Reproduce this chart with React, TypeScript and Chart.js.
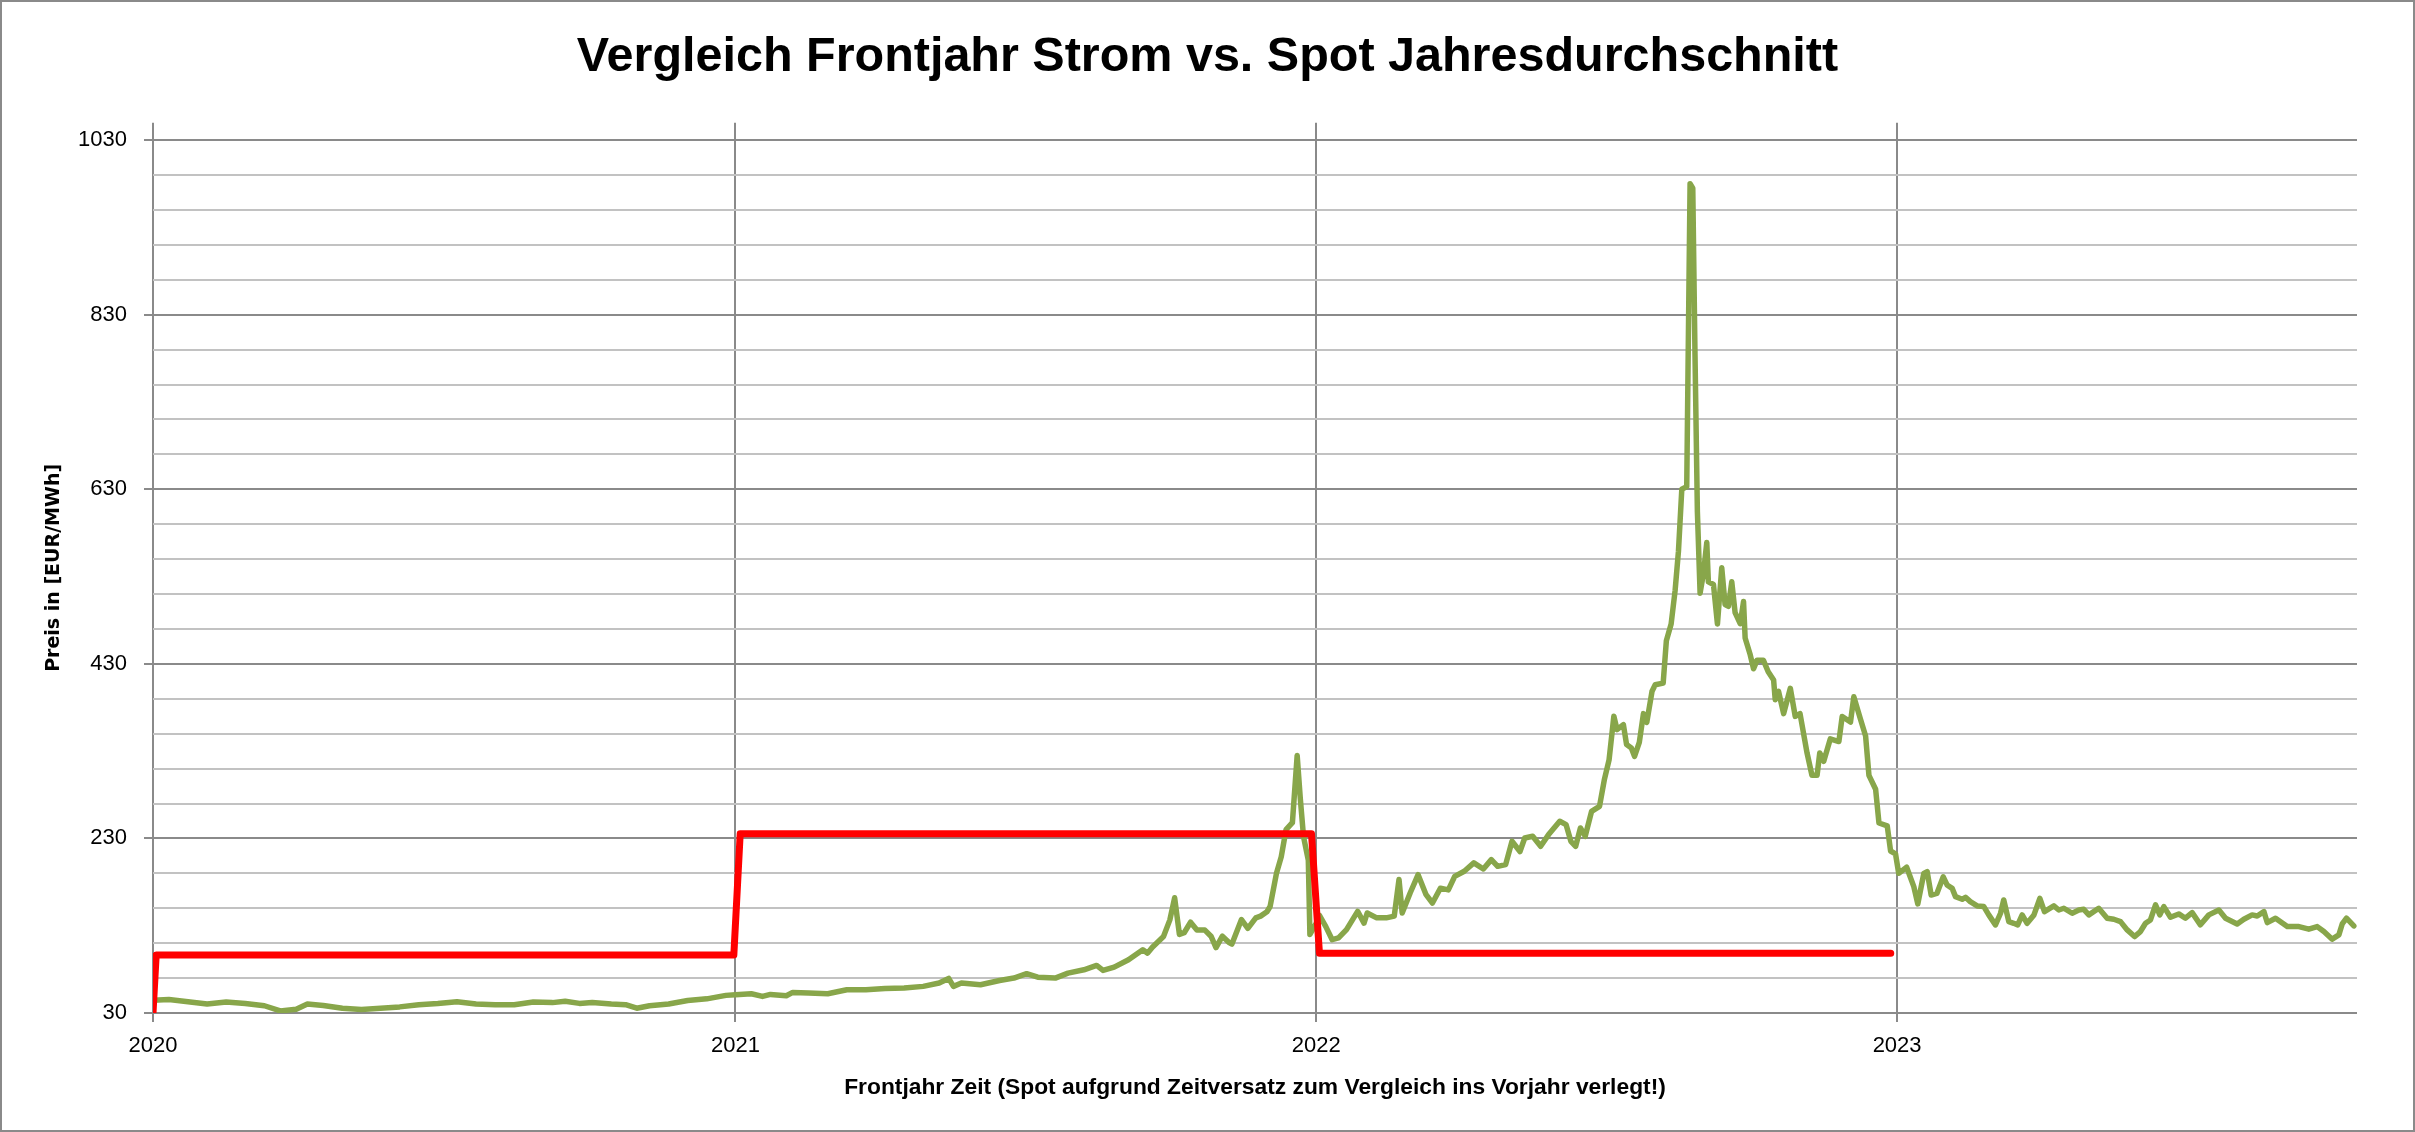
import { useEffect, useRef } from 'react';
import { Chart, registerables } from 'chart.js';

Chart.register(...registerables);

const chartTitle = 'Vergleich Frontjahr Strom vs. Spot Jahresdurchschnitt';
const xAxisTitle = 'Frontjahr Zeit (Spot aufgrund Zeitversatz zum Vergleich ins Vorjahr verlegt!)';
const yAxisTitle = 'Preis in [EUR/MWh]';

// x axis: days since 2020-01-01
const yearLabels = ['2020', '2021', '2022', '2023'];
const yearStartDays = [0, 366, 731, 1096];
const lastDay = 1385;

// y axis
const yMin = 30;
const yMax = 1050;
const yLabelValues = [30, 230, 430, 630, 830, 1030];
const yGridValues = [30, 70, 110, 150, 190, 230, 270, 310, 350, 390, 430, 470, 510, 550, 590, 630, 670, 710, 750, 790, 830, 870, 910, 950, 990, 1030];

// Frontjahr (red step line)
const frontDays = [0, 2, 365, 369, 728, 733, 1092];
const frontPrices = [30, 96.5, 96.5, 235.5, 235.5, 98.5, 98.5];

// Spot (green line)
const spotDays = [
  0, 10, 22, 34, 46, 58, 70, 80, 90, 97, 107, 119, 131, 143, 155, 167, 179, 191, 203, 215,
  227, 239, 251, 259, 268, 276, 288, 297, 304, 312, 324, 336, 348, 360, 366,
  376, 383, 388, 398, 402, 412, 424, 436, 448, 460, 472, 484, 494, 500, 503, 508, 520, 532, 541,
  549, 556, 567, 575, 585, 593, 597, 604, 613, 622, 625, 628, 635, 639, 642, 645, 648, 652, 656,
  661, 665, 668, 672, 676, 678, 684, 688, 693, 696, 700, 702, 706, 709, 712, 716, 719, 721, 723,
  726, 727, 731, 733, 737, 741, 745, 750, 757, 761, 763, 769, 775, 780, 783, 785, 790, 795, 800,
  804, 809, 814, 818, 824, 830, 836, 841, 845, 850, 854, 859, 862, 867, 872, 877, 884, 888, 891,
  894, 897, 900, 904, 909, 912, 915, 918, 920, 924, 926, 929, 931, 934, 936.6, 938.7, 942, 944,
  949, 951, 954, 956.5, 958.6, 960.7, 963.8, 965.9, 967.6, 969, 970.5, 972.2, 974.3, 976.4, 977.4,
  980.6, 983.1, 985.8, 987.9, 990, 992.1, 994.2, 997.4, 999.5, 1000.5, 1003.7, 1005.8, 1007.9,
  1012, 1015, 1018.4, 1019.4, 1021.5, 1024.7, 1028.9, 1032, 1035, 1039.4, 1042.5, 1045.7, 1047.4,
  1049.9, 1054, 1059.4, 1061.5, 1066.7, 1068.8, 1073, 1076.2, 1078.3, 1082.5, 1084.6, 1089.8,
  1091.9, 1095, 1097, 1102, 1106.5, 1109, 1112.8, 1114.9, 1117.4, 1121, 1125, 1127.4, 1130.6,
  1132.7, 1136.9, 1139, 1142, 1146.3, 1150.5, 1153.6, 1157.8, 1161, 1163, 1166.2, 1169.3, 1171.8,
  1174.6, 1177.7, 1182, 1185.7, 1188.6, 1194.5, 1197.6, 1200.8, 1206, 1210.2, 1213.3, 1216.5,
  1222.7, 1228, 1232.2, 1236.4, 1240.6, 1245.2, 1248.9, 1252.1, 1255.2, 1258.4, 1261.1, 1263.6,
  1267.8, 1273, 1277.2, 1281.4, 1286.6, 1291.9, 1298.2, 1302.4, 1309.7, 1313.9, 1319.1, 1322.3,
  1326.5, 1328.6, 1333.8, 1341.2, 1348.5, 1354.7, 1360, 1364.2, 1369.4, 1373.6, 1375.7, 1378.4, 1383,
];
const spotPrices = [
  44.6, 45.4, 43, 40.3, 42.7, 41, 38.3, 32.4, 34.4, 40.3, 38.7, 35.5, 34, 35.5, 37, 39.5, 41, 43, 40.3, 39.5,
  39.5, 42.7, 41.9, 43.5, 41, 42, 40.3, 39.5, 35.5, 38.3, 40.3, 44.3, 46.2, 50.2, 51,
  52, 49, 51.3, 49.8, 53.6, 52.9, 52, 56.7, 56.7, 58.2, 58.6, 60.5, 64.3, 69.6, 60.5, 64.3, 62.4, 67.3, 70,
  75, 71, 70, 75.7, 79.5, 84.5, 78.8, 82.6, 91, 102.4, 98.6, 105.4, 117.6, 136.7, 162, 120, 122, 134, 125,
  125, 117.6, 105, 118, 111, 109, 137, 127, 139, 141, 146, 152, 190, 209, 240, 248, 325, 275, 232,
  205, 120, 133, 142, 129, 114, 116, 125.5, 146.5, 133, 144.6, 139, 139, 141, 183, 144.6, 167.5, 188.5, 165.6,
  156, 173, 171, 186.6, 192.4, 202, 195, 205.7, 198, 200, 226.7, 215, 230.5, 232.5, 221, 234.4, 249.7, 245.8, 226.7,
  221, 242, 232.5, 261, 266.8, 297, 320, 370, 354.7, 360.4, 337.5, 333.7, 324, 340, 373, 363, 398.6, 406,
  408, 456.5, 475.7, 514, 559, 630, 633, 980, 975, 784, 604, 511, 533.5, 569, 524,
  521, 475.7, 540, 498, 496, 524, 488.6, 476, 501.4, 459.7, 440.4, 424.4, 434,
  434, 421, 411.5, 389, 398.6, 373, 402, 369.8, 373, 328, 302.3, 302.3, 328,
  318.4, 344, 341, 369.8, 363.3, 392.3, 366.6, 347.3, 302.3, 286.3, 247.7, 244.5,
  215.6, 212.4, 190, 197, 174.8, 155, 190, 192, 165.2, 167, 186, 176.7, 172.8,
  163.3, 160.3, 162.6, 157.6, 152.7, 151.9, 142.4, 131, 144.3, 159.5, 134.7, 132.8, 131,
  142.4, 132.8, 142.4, 161.4, 146.2, 152.7, 148, 150, 144.3, 148, 148.8, 142.4,
  150, 138.6, 137.4, 134.7, 125.2, 117.6, 123.3, 132.8, 136.6, 153.8, 142.4, 151.9,
  139.7, 143.5, 138.6, 145, 131, 142.4, 148, 138.6, 132, 137.4, 142.4, 141.2,
  146.2, 133.6, 138.6, 129, 129, 126, 129, 123.3, 114.6, 119.5, 132, 138.6, 129.8,
];

const W = 2415;
const H = 1132;
const sans = "'Liberation Sans', Arial, sans-serif";

export default function App() {
  const ref = useRef<HTMLCanvasElement>(null);

  useEffect(() => {
    const canvas = ref.current;
    if (!canvas) return;

    const framePlugin = {
      id: 'frame',
      afterDraw(chart: any) {
        const { ctx, width, height } = chart;
        ctx.save();
        ctx.strokeStyle = '#8a8a8a';
        ctx.lineWidth = 2;
        ctx.strokeRect(1, 1, width - 2, height - 2);
        ctx.restore();
      },
    };

    const isMajor = (v: number) => yLabelValues.includes(v);

    const chart = new Chart(canvas, {
      type: 'line',
      data: {
        datasets: [
          {
            label: 'Frontjahr',
            data: frontDays.map((d, i) => ({ x: d, y: frontPrices[i] })),
            borderColor: '#FF0000',
            backgroundColor: '#FF0000',
            borderWidth: 7,
            pointRadius: 0,
            borderCapStyle: 'round',
            borderJoinStyle: 'round',
            tension: 0,
          },
          {
            label: 'Spot',
            data: spotDays.map((d, i) => ({ x: d, y: spotPrices[i] })),
            borderColor: '#88A64A',
            backgroundColor: '#88A64A',
            borderWidth: 5.5,
            pointRadius: 0,
            borderCapStyle: 'round',
            borderJoinStyle: 'round',
            tension: 0,
          },
        ],
      },
      options: {
        responsive: false,
        animation: false,
        events: [],
        layout: { padding: { left: 0, right: 0, top: 0, bottom: 0 } },
        plugins: {
          legend: { display: false },
          tooltip: { enabled: false },
          title: {
            display: true,
            text: chartTitle,
            color: '#000',
            font: { family: sans, size: 48.5, weight: 'bold', lineHeight: 1.2 },
            padding: { top: 29, bottom: 35.5 },
          },
        },
        scales: {
          x: {
            type: 'linear',
            min: 0,
            max: lastDay,
            afterBuildTicks: (s: any) => {
              s.ticks = yearStartDays.map((v) => ({ value: v }));
            },
            afterFit: (s: any) => {
              s.height = H - 1013;
            },
            ticks: {
              autoSkip: false,
              maxRotation: 0,
              padding: 11,
              color: '#000',
              font: { family: sans, size: 22, lineHeight: 1.2 },
              callback: (v: any) => {
                const i = yearStartDays.indexOf(Number(v));
                return i >= 0 ? yearLabels[i] : '';
              },
            },
            grid: { color: '#8a8a8a', lineWidth: 2, tickLength: 9, tickColor: '#8a8a8a' },
            border: { display: false },
            title: {
              display: true,
              text: xAxisTitle,
              color: '#000',
              font: { family: sans, size: 22.8, weight: 'bold', lineHeight: 1.2 },
              padding: { top: 0, bottom: 31 },
            },
          },
          y: {
            type: 'linear',
            min: yMin,
            max: yMax,
            afterBuildTicks: (s: any) => {
              s.ticks = yGridValues.map((v) => ({ value: v }));
            },
            afterFit: (s: any) => {
              s.width = 153;
            },
            ticks: {
              autoSkip: false,
              padding: 17,
              color: '#000',
              font: { family: sans, size: 22, lineHeight: 1.2 },
              callback: (v: any) => (isMajor(Number(v)) ? String(v) : ''),
            },
            grid: {
              lineWidth: 2,
              tickLength: 9,
              color: (c: any) => (c.tick && isMajor(c.tick.value) ? '#8a8a8a' : '#c2c2c2'),
              tickColor: (c: any) => (c.tick && isMajor(c.tick.value) ? '#8a8a8a' : 'rgba(0,0,0,0)'),
            },
            border: { display: false },
            title: {
              display: true,
              text: yAxisTitle,
              color: '#000',
              font: { family: "'DejaVu Sans', Verdana, sans-serif", size: 19, weight: 'bold', lineHeight: 1.2 },
              padding: { top: 43, bottom: 0 },
            },
          },
          yRightSpace: {
            type: 'linear',
            position: 'right',
            display: true,
            min: yMin,
            max: yMax,
            grid: { display: false, drawTicks: false },
            ticks: { display: false },
            border: { display: false },
            afterFit: (s: any) => {
              s.width = W - 2357;
            },
          },
        },
      },
      plugins: [framePlugin],
    } as any);

    return () => chart.destroy();
  }, []);

  return (
    <div style={{ position: 'fixed', left: 0, top: 0, width: W, height: H, background: '#fff' }}>
      <canvas ref={ref} width={W} height={H} style={{ display: 'block', width: W, height: H }} />
    </div>
  );
}
